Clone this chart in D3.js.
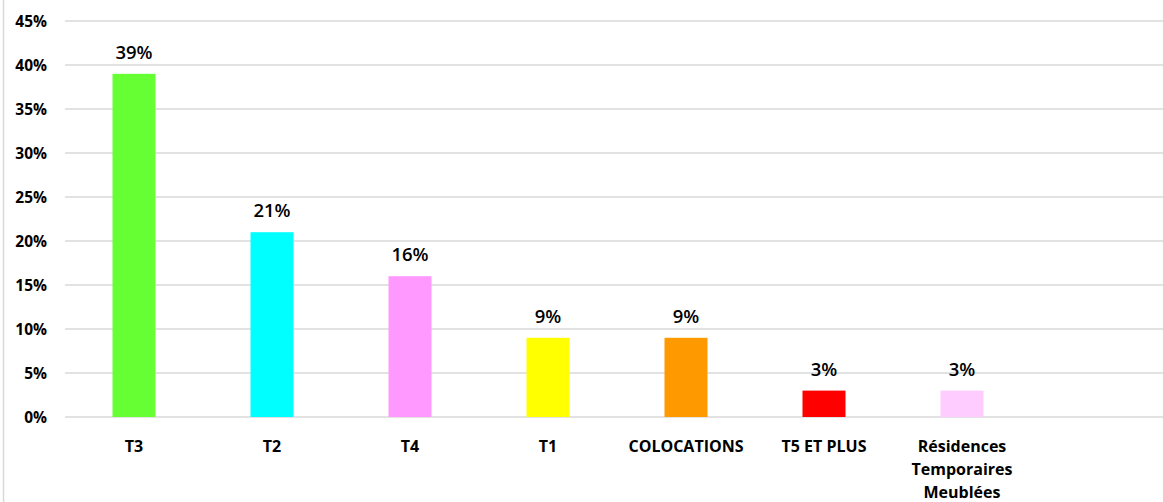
<!DOCTYPE html>
<meta charset="utf-8">
<style>
body { margin: 0; background: #fff; }
svg text { font-family: "Open Sans", sans-serif; fill: #000; }
.grid line { stroke: #d9d9d9; stroke-width: 1.5; }
.ylab { font-size: 15.5px; font-weight: bold; }
.xlab { font-size: 16px; font-weight: bold; }
.val { font-size: 18.5px; font-weight: 600; }
</style>
<body>
<svg width="1163" height="502"></svg>
<script src="https://cdn.jsdelivr.net/npm/d3@7/dist/d3.min.js"></script>
<script>

// categories, values (%), bar colours
var categories = ["T3", "T2", "T4", "T1", "COLOCATIONS", "T5 ET PLUS", "Résidences Temporaires Meublées"];
var values = [39, 21, 16, 9, 9, 3, 3];
var colors = ["#66ff33", "#00ffff", "#ff99ff", "#ffff00", "#ff9900", "#ff0000", "#ffccff"];
var yTicks = [0, 5, 10, 15, 20, 25, 30, 35, 40, 45];

var svg = d3.select("svg"),
    width = +svg.attr("width"),
    height = +svg.attr("height");

var plotLeft = 65, plotBottom = 417, plotTop = 21;

// 8 slots wide, the last one is empty in the original
var x = d3.scaleBand()
    .domain(categories)
    .range([plotLeft, plotLeft + 7 * 138])
    .padding(0);

var y = d3.scaleLinear()
    .domain([0, 45])
    .range([plotBottom, plotTop]);

var barW = 43;

// frame line on the left
svg.append("line")
    .attr("x1", 3.5).attr("x2", 3.5)
    .attr("y1", 0).attr("y2", height)
    .attr("stroke", "#d9d9d9").attr("stroke-width", 1.5);

// gridlines
svg.append("g").attr("class", "grid")
  .selectAll("line")
  .data(yTicks)
  .enter().append("line")
    .attr("x1", plotLeft).attr("x2", width)
    .attr("y1", function(d) { return y(d); })
    .attr("y2", function(d) { return y(d); });

// y labels
svg.append("g")
  .selectAll("text")
  .data(yTicks)
  .enter().append("text")
    .attr("class", "ylab")
    .attr("x", 47)
    .attr("y", function(d) { return y(d) + 5.5; })
    .attr("text-anchor", "end")
    .text(function(d) { return d + "%"; });

// bars
svg.append("g")
  .selectAll("rect")
  .data(categories)
  .enter().append("rect")
    .attr("x", function(d) { return x(d) + x.bandwidth() / 2 - barW / 2; })
    .attr("y", function(d, i) { return y(values[i]); })
    .attr("width", barW)
    .attr("height", function(d, i) { return plotBottom - y(values[i]); })
    .attr("fill", function(d, i) { return colors[i]; });

// value labels
svg.append("g")
  .selectAll("text")
  .data(categories)
  .enter().append("text")
    .attr("class", "val")
    .attr("x", function(d) { return x(d) + x.bandwidth() / 2; })
    .attr("y", function(d, i) { return y(values[i]) - 15; })
    .attr("text-anchor", "middle")
    .text(function(d, i) { return values[i] + "%"; });

// category labels, wrapped into lines for the long one
var xl = svg.append("g")
  .selectAll("text")
  .data(categories)
  .enter().append("text")
    .attr("class", "xlab")
    .attr("text-anchor", "middle")
    .attr("x", function(d) { return x(d) + x.bandwidth() / 2; })
    .attr("y", 452);

xl.each(function(d) {
  var words = d.indexOf("Résidences") === 0 ? d.split(" ") : [d];
  var t = d3.select(this);
  var cx = +t.attr("x");
  words.forEach(function(w, k) {
    t.append("tspan")
      .attr("x", cx)
      .attr("dy", k === 0 ? 0 : 23)
      .text(w);
  });
});

</script>
</body>
